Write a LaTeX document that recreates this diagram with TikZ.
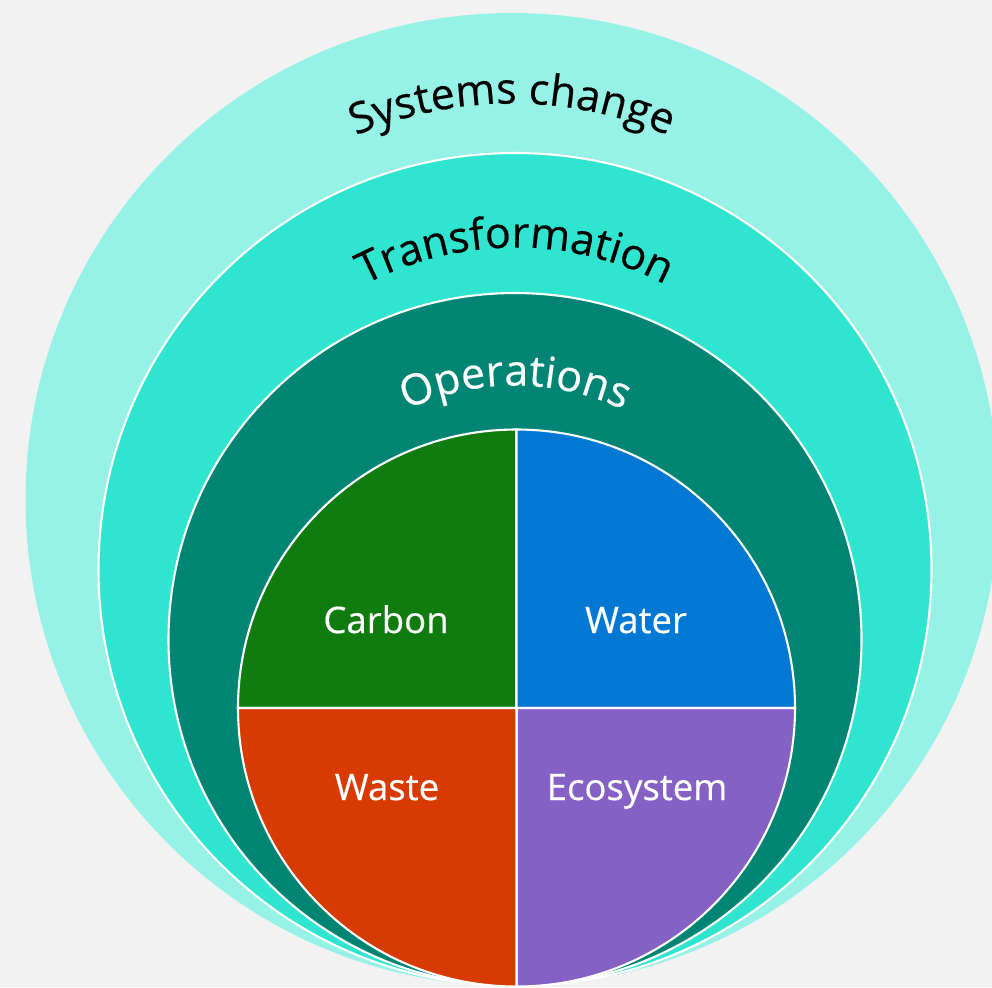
\documentclass[tikz,border=0pt]{standalone}
\usepackage{fontspec}
\setmainfont{Open Sans}[BoldFont={Open Sans}, BoldFeatures={FakeBold=0.45}]
\usetikzlibrary{decorations.text}
\definecolor{bg}{HTML}{F2F2F2}
\definecolor{ringA}{HTML}{96F2E6}
\definecolor{ringB}{HTML}{30E5D0}
\definecolor{ringC}{HTML}{008575}
\definecolor{carbonc}{HTML}{107C10}
\definecolor{waterc}{HTML}{0078D4}
\definecolor{wastec}{HTML}{D83B01}
\definecolor{ecoc}{HTML}{8661C5}
\tikzset{
  ringline/.style={draw=white, line width=0.6pt},
  quad/.style={draw=white, line width=0.6pt},
  lab/.style={text=white, font=\fontsize{10.4pt}{12pt}\selectfont\bfseries, inner sep=0pt, anchor=base},
}
\begin{document}
\begin{tikzpicture}[x=0.01cm,y=0.01cm]
\useasboundingbox (0,0) rectangle (992,-987);
\clip (0,0) rectangle (992,-987);
\fill[bg] (0,0) rectangle (992,-987);
\coordinate (cA) at (512,-499.5);
\coordinate (cB) at (515,-569.5);
\coordinate (cC) at (515,-639.5);
\coordinate (cD) at (516.5,-708);
% rings
\fill[ringA] (cA) circle[radius=486.5];
\path[fill=ringB, ringline] (cB) circle[radius=416.5];
\path[fill=ringC, ringline] (cC) circle[radius=346.5];
% quadrants
\path[fill=carbonc, quad] (cD) -- ++(180:278.5) arc[start angle=180, end angle=90, radius=278.5] -- cycle;
\path[fill=waterc, quad] (cD) -- ++(90:278.5) arc[start angle=90, end angle=0, radius=278.5] -- cycle;
\path[fill=ecoc, quad] (cD) -- ++(0:278.5) arc[start angle=0, end angle=-90, radius=278.5] -- cycle;
\path[fill=wastec, quad] (cD) -- ++(-90:278.5) arc[start angle=-90, end angle=-180, radius=278.5] -- cycle;
% curved labels
\path[decorate, decoration={text along path, text align=center,
  text={|\fontsize{12.2pt}{14pt}\selectfont\bfseries\color{black}|Systems change}}]
  (cA) ++(130:396) arc[start angle=130, end angle=50, radius=396];
\path[decorate, decoration={text along path, text align=center,
  text={|\fontsize{12.2pt}{14pt}\selectfont\bfseries\color{black}|Transformation}}]
  (cB) ++(140:322) arc[start angle=140, end angle=40, radius=322];
\path[decorate, decoration={text along path, text align=center,
  text={|\fontsize{12.2pt}{14pt}\selectfont\bfseries\color{white}|Operations}}]
  (cC) ++(150:254) arc[start angle=150, end angle=30, radius=254];
% quadrant labels
\node[lab] (carbon) at (386,-633) {Carbon};
\node[lab] (water) at (636,-633) {Water};
\node[lab] (waste) at (387,-800) {Waste};
\node[lab] (eco) at (637,-800) {Ecosystem};
\end{tikzpicture}
\end{document}
